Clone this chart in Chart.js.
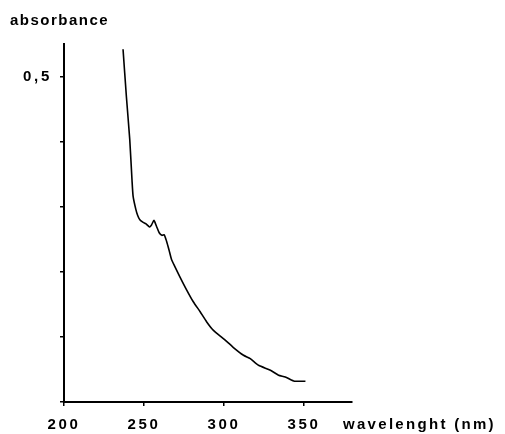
<!DOCTYPE html>
<html>
<head>
<meta charset="utf-8">
<script src="https://cdn.jsdelivr.net/npm/chart.js@4/dist/chart.umd.min.js"></script>
<style>
  html, body { margin: 0; padding: 0; background: #fff; }
  #box { width: 505px; height: 434px; }
</style>
</head>
<body>
<div id="box"><canvas id="chartSpettro" width="505" height="434"></canvas></div>
<script>
// dati
const lunghezzeOnda = [236.9, 239.0, 241.1, 242.5, 243.2, 244.9, 246.0, 247.4, 249.5, 251.1,
  253.4, 254.7, 256.2, 257.8, 259.5, 261.2, 262.6, 264.1, 265.7, 267.2,
  269.3, 272.5, 276.7, 280.8, 285.0, 289.2, 293.4, 299.6, 305.9, 312.2,
  316.4, 321.6, 329.0, 334.1, 338.3, 343.5, 350.9];
const assorbanza = [0.542, 0.469, 0.403, 0.341, 0.316, 0.296, 0.287, 0.280, 0.276, 0.274,
  0.269, 0.272, 0.279, 0.270, 0.260, 0.256, 0.257, 0.247, 0.233, 0.219,
  0.208, 0.192, 0.172, 0.154, 0.139, 0.123, 0.110, 0.0975, 0.0837, 0.0718,
  0.0667, 0.0565, 0.0488, 0.0411, 0.0385, 0.0323, 0.0318];
const tickX = [200, 250, 300, 350];
const tickY = [0, 0.1, 0.2, 0.3, 0.4, 0.5];
const etichetteY = { "0.5": "0,5" };

const FONT = '"Liberation Sans", Arial, sans-serif';

// titoli degli assi e spaziatura lettere
const titoli = {
  id: 'titoli',
  beforeDraw(chart) {
    chart.ctx.letterSpacing = '2.7px';
  },
  afterDraw(chart) {
    const ctx = chart.ctx;
    ctx.save();
    ctx.fillStyle = '#000';
    ctx.font = 'bold 15px ' + FONT;
    ctx.textBaseline = 'middle';
    ctx.textAlign = 'left';
    ctx.letterSpacing = '1.5px';
    ctx.fillText('absorbance', 10, 21);
    ctx.letterSpacing = '2.3px';
    ctx.fillText('wavelenght (nm)', 343, 425);
    ctx.restore();
  }
};

const ctx = document.getElementById('chartSpettro').getContext('2d');
new Chart(ctx, {
  type: 'scatter',
  data: {
    datasets: [{
      data: lunghezzeOnda.map((x, i) => ({ x: x, y: assorbanza[i] })),
      showLine: true,
      borderColor: '#000',
      borderWidth: 1.6,
      pointRadius: 0,
      tension: 0.2,
      fill: false
    }]
  },
  options: {
    responsive: false,
    animation: false,
    layout: { padding: { top: 44, right: 153, left: 0, bottom: 0 } },
    plugins: { legend: { display: false }, tooltip: { enabled: false } },
    scales: {
      x: {
        type: 'linear',
        min: 200,
        max: 380,
        afterFit: s => { s.height = 32; },
        afterBuildTicks: s => { s.ticks = tickX.map(v => ({ value: v })); },
        grid: { drawOnChartArea: false, drawTicks: true, tickLength: 4, color: '#000', lineWidth: 1.5 },
        border: { display: true, color: '#000', width: 2 },
        ticks: {
          color: '#000',
          padding: 10,
          font: { family: FONT, size: 15, weight: 'bold' },
          callback: v => String(v)
        }
      },
      y: {
        type: 'linear',
        min: 0,
        max: 0.55,
        afterFit: s => { s.width = 64; },
        afterBuildTicks: s => { s.ticks = tickY.map(v => ({ value: v })); },
        grid: { drawOnChartArea: false, drawTicks: true, tickLength: 4, color: '#000', lineWidth: 1.5 },
        border: { display: true, color: '#000', width: 2 },
        ticks: {
          color: '#000',
          padding: 8,
          font: { family: FONT, size: 15, weight: 'bold' },
          callback: v => etichetteY[String(Math.round(v * 10) / 10)] || ''
        }
      }
    }
  },
  plugins: [titoli]
});
</script>
</body>
</html>
